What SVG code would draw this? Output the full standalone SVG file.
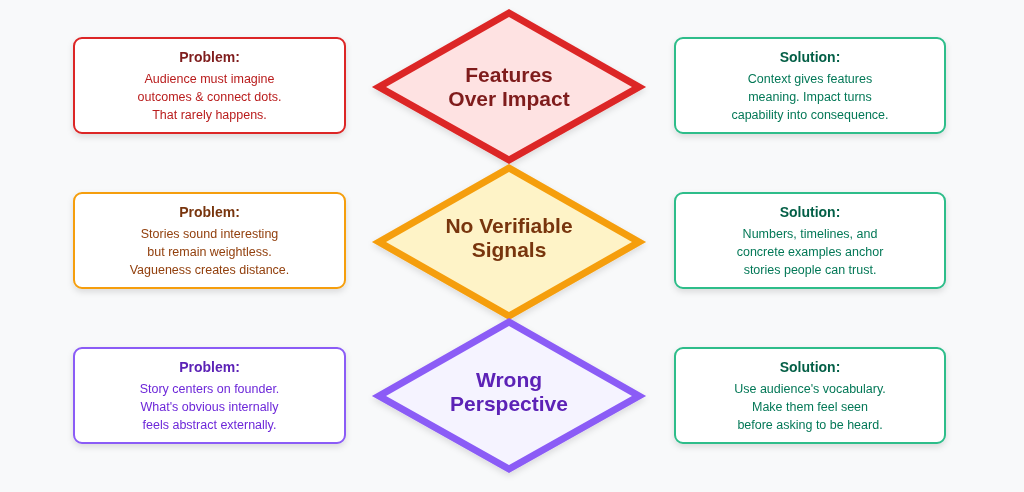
<svg xmlns="http://www.w3.org/2000/svg" width="1024" height="492" viewBox="0 0 1024 492">
<defs>
<filter id="sh" x="-10%" y="-20%" width="120%" height="150%"><feDropShadow dx="0" dy="3" stdDeviation="3" flood-color="#000" flood-opacity="0.12"/></filter>
<style>
text{font-family:"Liberation Sans",Arial,sans-serif;text-anchor:middle}
.box{fill:#fff;stroke-width:2}
.t{font-size:14px;font-weight:bold}
.b{font-size:12.5px}
.d{font-size:21px;font-weight:bold}
.dia{stroke-width:7;stroke-linejoin:miter}
</style>
</defs>
<rect width="1024" height="492" fill="#f8f9fa"/>
<g id="connectors"/>
<g id="p1" filter="url(#sh)">
<rect class="box" x="74" y="38" width="271" height="95" rx="8" stroke="#dc2626"/>
<text class="t" x="209.5" y="62" fill="#7f1d1d">Problem:</text>
<text class="b" fill="#b91c1c"><tspan x="209.5" y="83">Audience must imagine</tspan><tspan x="209.5" y="101">outcomes &amp; connect dots.</tspan><tspan x="209.5" y="119">That rarely happens.</tspan></text>
</g>
<g id="s1" filter="url(#sh)">
<rect class="box" x="675" y="38" width="270" height="95" rx="8" stroke="#2ebd8a"/>
<text class="t" x="810" y="62" fill="#065f46">Solution:</text>
<text class="b" fill="#047857"><tspan x="810" y="83">Context gives features</tspan><tspan x="810" y="101">meaning. Impact turns</tspan><tspan x="810" y="119">capability into consequence.</tspan></text>
</g>
<g id="d1" filter="url(#sh)">
<polygon class="dia" points="509,13 639,87 509,160 379,87" fill="#fee2e2" stroke="#dc2626"/>
<text class="d" fill="#7f1d1d"><tspan x="509" y="82">Features</tspan><tspan x="509" y="106">Over Impact</tspan></text>
</g>
<g id="p2" filter="url(#sh)">
<rect class="box" x="74" y="193" width="271" height="95" rx="8" stroke="#f59e0b"/>
<text class="t" x="209.5" y="217" fill="#78350f">Problem:</text>
<text class="b" fill="#92400e"><tspan x="209.5" y="238">Stories sound interesting</tspan><tspan x="209.5" y="256">but remain weightless.</tspan><tspan x="209.5" y="274">Vagueness creates distance.</tspan></text>
</g>
<g id="s2" filter="url(#sh)">
<rect class="box" x="675" y="193" width="270" height="95" rx="8" stroke="#2ebd8a"/>
<text class="t" x="810" y="217" fill="#065f46">Solution:</text>
<text class="b" fill="#047857"><tspan x="810" y="238">Numbers, timelines, and</tspan><tspan x="810" y="256">concrete examples anchor</tspan><tspan x="810" y="274">stories people can trust.</tspan></text>
</g>
<g id="d2" filter="url(#sh)">
<polygon class="dia" points="509,168 639,242 509,316 379,242" fill="#fef3c7" stroke="#f59e0b"/>
<text class="d" fill="#78350f"><tspan x="509" y="233">No Verifiable</tspan><tspan x="509" y="257">Signals</tspan></text>
</g>
<g id="p3" filter="url(#sh)">
<rect class="box" x="74" y="348" width="271" height="95" rx="8" stroke="#8b5cf6"/>
<text class="t" x="209.5" y="372" fill="#5b21b6">Problem:</text>
<text class="b" fill="#6d28d9"><tspan x="209.5" y="393">Story centers on founder.</tspan><tspan x="209.5" y="411">What's obvious internally</tspan><tspan x="209.5" y="429">feels abstract externally.</tspan></text>
</g>
<g id="s3" filter="url(#sh)">
<rect class="box" x="675" y="348" width="270" height="95" rx="8" stroke="#2ebd8a"/>
<text class="t" x="810" y="372" fill="#065f46">Solution:</text>
<text class="b" fill="#047857"><tspan x="810" y="393">Use audience's vocabulary.</tspan><tspan x="810" y="411">Make them feel seen</tspan><tspan x="810" y="429">before asking to be heard.</tspan></text>
</g>
<g id="d3" filter="url(#sh)">
<polygon class="dia" points="509,322 639,396 509,469 379,396" fill="#f5f3ff" stroke="#8b5cf6"/>
<text class="d" fill="#5b21b6"><tspan x="509" y="387">Wrong</tspan><tspan x="509" y="411">Perspective</tspan></text>
</g>
</svg>
